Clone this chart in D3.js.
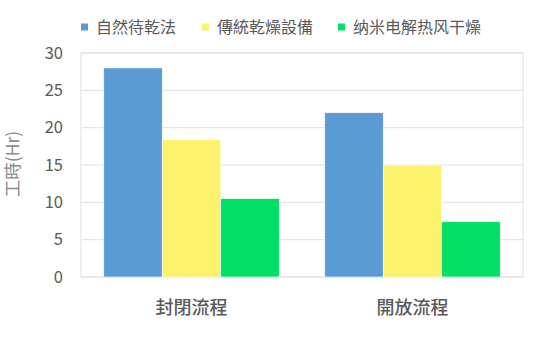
<!DOCTYPE html>
<html>
<head>
<meta charset="utf-8">
<script src="https://cdn.jsdelivr.net/npm/d3@7"></script>
<style>
  body { margin: 0; background: #fff; }
  text { font-family: "Noto Sans CJK TC", "Noto Sans", sans-serif; }
</style>
</head>
<body>
<svg id="chart" width="543" height="353"></svg>
<script>
const categories = ["封閉流程", "開放流程"];
const seriesNames = ["自然待乾法", "傳統乾燥設備", "纳米电解热风干燥"];
const seriesColors = ["#5b9bd5", "#fdf26b", "#00e064"];
const values = [
    [28, 18.4, 10.5],
    [22, 15, 7.4]
];
const yTicks = [0, 5, 10, 15, 20, 25, 30];

const svg = d3.select("#chart");
const margin = { left: 81, right: 20, top: 53, bottom: 76 };
const width = 543, height = 353;

const x = d3.scaleBand()
    .domain(categories)
    .range([margin.left, width - margin.right])
    .paddingInner(0)
    .paddingOuter(0);

const xInner = d3.scaleBand()
    .domain(seriesNames)
    .range([0, x.bandwidth()])
    .paddingOuter(0.389)
    .paddingInner(0);

const y = d3.scaleLinear()
    .domain([0, 30])
    .range([height - margin.bottom, margin.top]);

// gridlines
svg.append("g")
    .selectAll("line")
    .data(yTicks)
    .enter()
    .append("line")
    .attr("x1", margin.left)
    .attr("x2", width - margin.right)
    .attr("y1", d => y(d))
    .attr("y2", d => y(d))
    .attr("stroke", "#e0e0e0")
    .attr("stroke-width", 1);

// plot border
svg.append("rect")
    .attr("x", margin.left)
    .attr("y", margin.top)
    .attr("width", width - margin.right - margin.left)
    .attr("height", y(0) - margin.top)
    .attr("fill", "none")
    .attr("stroke", "#e0e0e0");

// bars
const groups = svg.append("g")
    .selectAll("g")
    .data(categories)
    .enter()
    .append("g")
    .attr("transform", d => `translate(${x(d)},0)`);

groups.selectAll("rect")
    .data((d, i) => seriesNames.map((s, j) => ({ s, v: values[i][j], c: seriesColors[j] })))
    .enter()
    .append("rect")
    .attr("x", d => xInner(d.s))
    .attr("width", xInner.bandwidth())
    .attr("y", d => y(d.v))
    .attr("height", d => y(0) - y(d.v))
    .attr("fill", d => d.c)
    .attr("stroke", "#fff")
    .attr("stroke-width", 0.6);

// y tick labels
svg.append("g")
    .selectAll("text")
    .data(yTicks)
    .enter()
    .append("text")
    .attr("x", 63)
    .attr("y", d => y(d))
    .attr("dy", "0.35em")
    .attr("text-anchor", "end")
    .attr("font-size", 16.5)
    .attr("fill", "#595959")
    .text(d => d);

// x category labels
svg.append("g")
    .selectAll("text")
    .data(categories)
    .enter()
    .append("text")
    .attr("x", d => x(d) + x.bandwidth() / 2)
    .attr("y", 308)
    .attr("dy", "0.35em")
    .attr("text-anchor", "middle")
    .attr("font-size", 18)
    .attr("font-weight", 500)
    .attr("fill", "#595959")
    .text(d => d);

// y axis title
svg.append("text")
    .attr("transform", `translate(13,${(margin.top + y(0)) / 2 - 1}) rotate(-90)`)
    .attr("text-anchor", "middle")
    .attr("dy", "0.35em")
    .attr("font-size", 17.5)
    .attr("fill", "#8c8c8c")
    .text("工時(Hr)");

// legend
const legendX = [81, 202, 338];
const legend = svg.append("g")
    .selectAll("g")
    .data(seriesNames)
    .enter()
    .append("g")
    .attr("transform", (d, i) => `translate(${legendX[i]},27)`);

legend.append("rect")
    .attr("x", 0)
    .attr("y", -3.5)
    .attr("width", 7)
    .attr("height", 7)
    .attr("fill", (d, i) => seriesColors[i]);

legend.append("text")
    .attr("x", 15)
    .attr("y", 0)
    .attr("dy", "0.35em")
    .attr("font-size", 16)
    .attr("fill", "#595959")
    .text(d => d);
</script>
</body>
</html>
